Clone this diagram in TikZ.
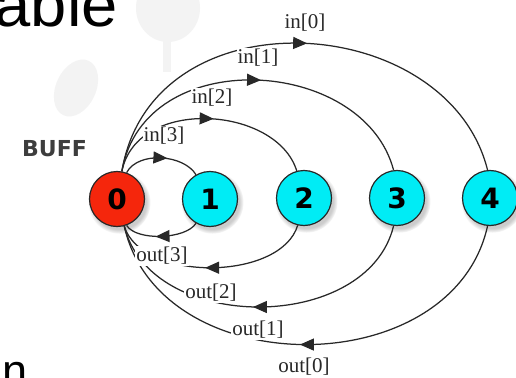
\documentclass[tikz,border=0pt]{standalone}
\usepackage{fontspec}
\setmainfont{Liberation Serif}
\newfontfamily\headfont{Liberation Sans}
\newfontfamily\dejavu{DejaVu Sans}
\usetikzlibrary{arrows.meta,decorations.markings,shadows}

\definecolor{nodered}{RGB}{245,38,12}
\definecolor{nodecyan}{RGB}{0,236,245}
\definecolor{wmgray}{RGB}{243,243,243}
\definecolor{inkgray}{RGB}{40,40,40}

\tikzset{
  stnode/.style={circle, draw=inkgray, line width=1.2pt, minimum size=55pt,
    inner sep=0pt, font=\dejavu\bfseries\fontsize{28}{28}\selectfont,
    circular drop shadow={shadow xshift=2pt, shadow yshift=-3pt,
      shadow scale=1.14, opacity=.4}},
  link/.style={draw=inkgray, line width=1.25pt, postaction={decorate},
    decoration={markings, mark=at position 0.5 with
      {\arrow[xshift=6pt]{Triangle[length=14pt,width=12pt]}}}},
  lbl/.style={font=\fontsize{21}{21}\selectfont, text=inkgray,
    inner sep=1pt, fill=white},
}

\begin{document}
\begin{tikzpicture}[x=1pt,y=-1pt]
  \useasboundingbox (0,0) rectangle (516,377);
  \clip (0,0) rectangle (516,377);
  \fill[white] (0,0) rectangle (516,377);

  % faint background emblem
  \fill[wmgray] (168,8) ellipse [x radius=32, y radius=34];
  \fill[wmgray] (163,38) rectangle (171,72);
  \fill[wmgray, rotate around={-25:(76,88)}] (76,88) ellipse [x radius=20, y radius=30];

  % slide text
  \node[anchor=base east, inner sep=0pt, font=\headfont\fontsize{62}{62}\selectfont]
    (ttl) at (118,27) {\scalebox{1.05}[1]{able}};
  \node[anchor=base west, inner sep=0pt, font=\headfont\fontsize{45}{45}\selectfont]
    (nn) at (2,386) {n};

  % buffer nodes
  \node[stnode, fill=nodered]  (n0) at (117,199) {0};
  \node[stnode, fill=nodecyan] (n1) at (210,199) {1};
  \node[stnode, fill=nodecyan] (n2) at (304,198) {2};
  \node[stnode, fill=nodecyan] (n3) at (397,198) {3};
  \node[stnode, fill=nodecyan] (n4) at (490,198) {4};

  \node[font=\dejavu\bfseries\fontsize{22}{22}\selectfont, text=inkgray!90]
    (buff) at (54.5,148.5) {BUFF};

  % input links
  \draw[link] (n0.80) .. controls +(30,-180) and +(-40,-160) .. (n4.95);
  \draw[link] (n0.80) .. controls +(22,-128) and +(-30,-114) .. (n3.97);
  \draw[link] (n0.80) .. controls +(15,-75) and +(-20,-65) .. (n2.105);
  \draw[link] (n0.70) .. controls +(12,-22) and +(-12,-20) .. (n1.120);

  % output links
  \draw[link] (n4.-95) .. controls +(-35,158) and +(35,158) .. (n0.-75);
  \draw[link] (n3.-97) .. controls +(-26,108) and +(26,108) .. (n0.-75);
  \draw[link] (n2.-103) .. controls +(-17,56) and +(17,56) .. (n0.-75);
  \draw[link] (n1.-120) .. controls +(-10,16) and +(10,16) .. (n0.-70);

  % link labels
  \node[lbl] (in0) at (305,23) {in[0]};
  \node[lbl] (in1) at (258,58) {in[1]};
  \node[lbl] (in2) at (212,98) {in[2]};
  \node[lbl] (in3) at (164,136) {in[3]};
  \node[lbl] (out3) at (162,256) {out[3]};
  \node[lbl] (out2) at (211,293) {out[2]};
  \node[lbl] (out1) at (258,330) {out[1]};
  \node[lbl] (out0) at (304,367) {out[0]};
\end{tikzpicture}
\end{document}
